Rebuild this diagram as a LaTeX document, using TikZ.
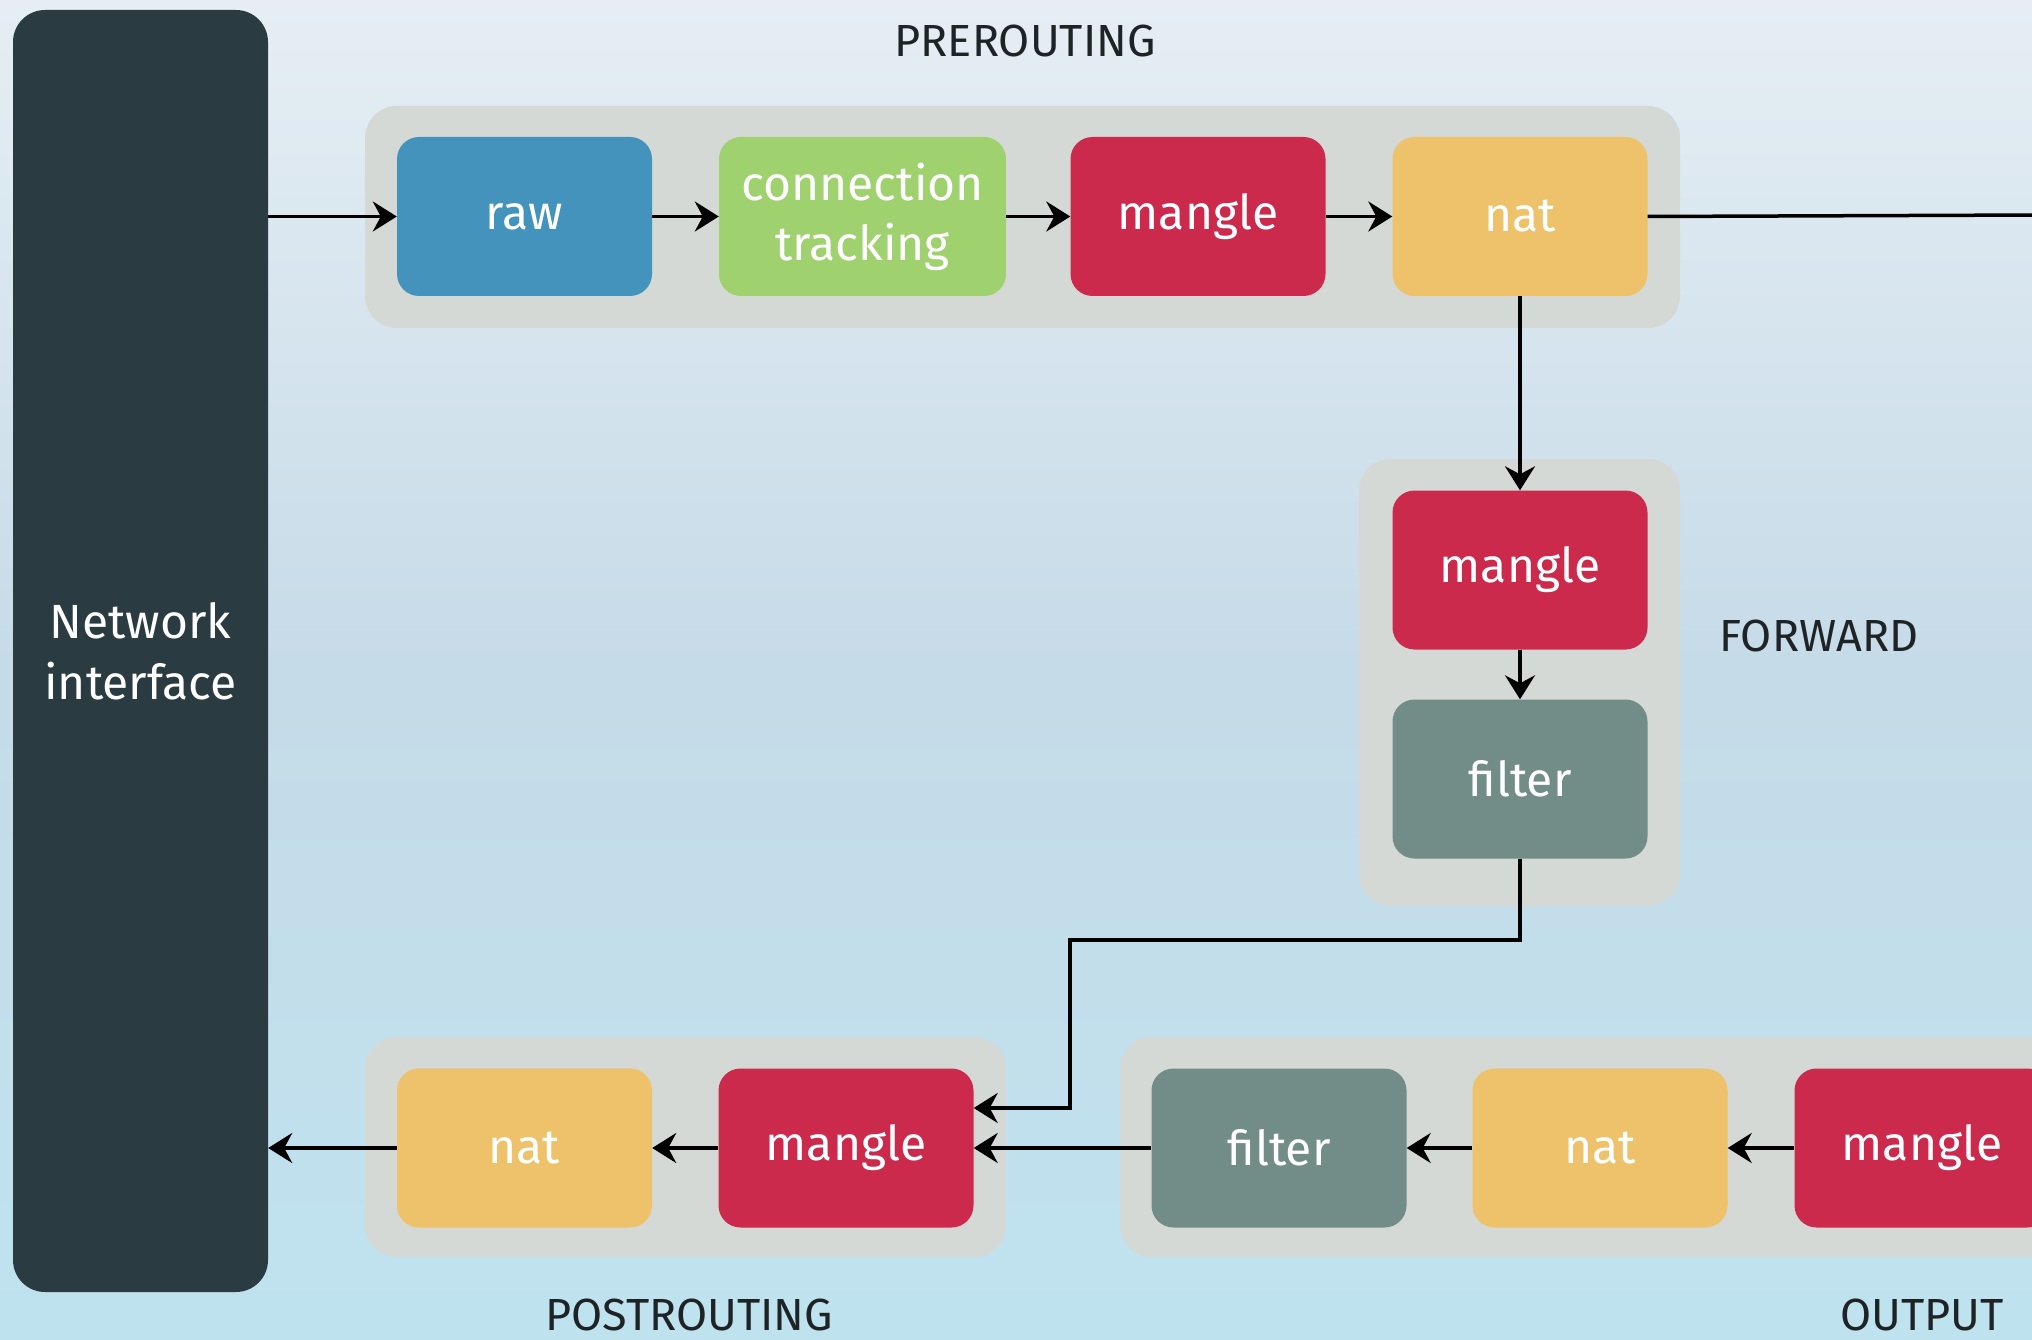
\documentclass[tikz,border=0pt]{standalone}
\usepackage{fontspec}
\setmainfont{Fira Sans}
\usetikzlibrary{arrows.meta}
\definecolor{bgtop}{HTML}{E6EEF4}
\definecolor{bgbot}{HTML}{BFE2EF}
\definecolor{bgmid}{HTML}{9EC3D9}
\definecolor{netc}{HTML}{2A3B42}
\definecolor{grp}{HTML}{D5D9D5}
\definecolor{rawc}{HTML}{4493BD}
\definecolor{ctc}{HTML}{9FD16F}
\definecolor{manc}{HTML}{CB2A4C}
\definecolor{natc}{HTML}{EDC26A}
\definecolor{filc}{HTML}{728C87}
\definecolor{lblc}{HTML}{1E2326}
\tikzset{
  tbl/.style={rounded corners=22pt, minimum width=255pt, minimum height=159pt,
    inner sep=0pt, text=white, font=\fontsize{48}{60}\selectfont, align=center},
  grpbox/.style={fill=grp, rounded corners=32pt},
  conn/.style={line width=3.5pt, draw=black, -{Stealth[length=24pt,width=30pt,inset=8pt]}},
  plain/.style={line width=3.5pt, draw=black},
  chain/.style={font=\fontsize{45}{54}\selectfont, text=lblc, inner sep=0pt, anchor=base}
}
\begin{document}
\begin{tikzpicture}[x=1pt,y=-1pt]
\useasboundingbox (0,0) rectangle (2032,1340);
\clip (0,0) rectangle (2032,1340);
% background
\shade[top color=bgtop, bottom color=bgbot, middle color=bgmid!45!bgtop] (0,0) rectangle (2032,1340);
% groups
\fill[grpbox] (365,106) rectangle (1680,328);
\fill[grpbox] (1359,459) rectangle (1680,906);
\fill[grpbox] (365,1037) rectangle (1006,1257);
\fill[grpbox] (1120,1037) rectangle (2080,1257);
% network interface
\node[fill=netc, rounded corners=32pt, minimum width=255pt, minimum height=1282pt, inner sep=0pt,
  text=white, font=\fontsize{48}{61}\selectfont, align=center] (net) at (140.5,651) {Network\\interface};
% prerouting
\node[tbl, fill=rawc] (raw) at (524.5,216.5) {raw};
\node[tbl, fill=ctc, minimum width=287pt] (ct) at (862.5,216.5) {connection\\tracking};
\node[tbl, fill=manc] (pman) at (1198,216.5) {mangle};
\node[tbl, fill=natc] (pnat) at (1520,216.5) {nat};
% forward
\node[tbl, fill=manc] (fman) at (1520,570) {mangle};
\node[tbl, fill=filc] (ffil) at (1520,779) {filter};
% postrouting
\node[tbl, fill=natc] (qnat) at (524.5,1148) {nat};
\node[tbl, fill=manc] (qman) at (846,1148) {mangle};
% output
\node[tbl, fill=filc] (ofil) at (1279,1148) {filter};
\node[tbl, fill=natc] (onat) at (1600,1148) {nat};
\node[tbl, fill=manc] (oman) at (1922,1148) {mangle};
% labels
\node[chain] (lpre) at (1025,57) {PREROUTING};
\node[chain] (lfwd) at (1819,651) {FORWARD};
\node[chain] (lpost) at (689,1330) {POSTROUTING};
\node[chain] (lout) at (1922,1330) {OUTPUT};
% connectors
\coordinate (exitR) at (2040,215);
\draw[conn] (net.east |- raw) -- (raw.west);
\draw[conn] (raw) -- (ct);
\draw[conn] (ct) -- (pman);
\draw[conn] (pman) -- (pnat);
\draw[plain] (pnat.east) -- (exitR);
\draw[conn] (pnat.south) -- (fman.north);
\draw[conn] (fman.south) -- (ffil.north);
\coordinate (qin) at ([yshift=40pt]qman.east);
\coordinate (bendA) at (1070,940);
\draw[conn] (ffil.south) |- (bendA) |- (qin);
\draw[conn] (oman) -- (onat);
\draw[conn] (onat) -- (ofil);
\draw[conn] (ofil) -- (qman);
\draw[conn] (qman) -- (qnat);
\draw[conn] (qnat.west) -- (net.east |- qnat);
\end{tikzpicture}
\end{document}
